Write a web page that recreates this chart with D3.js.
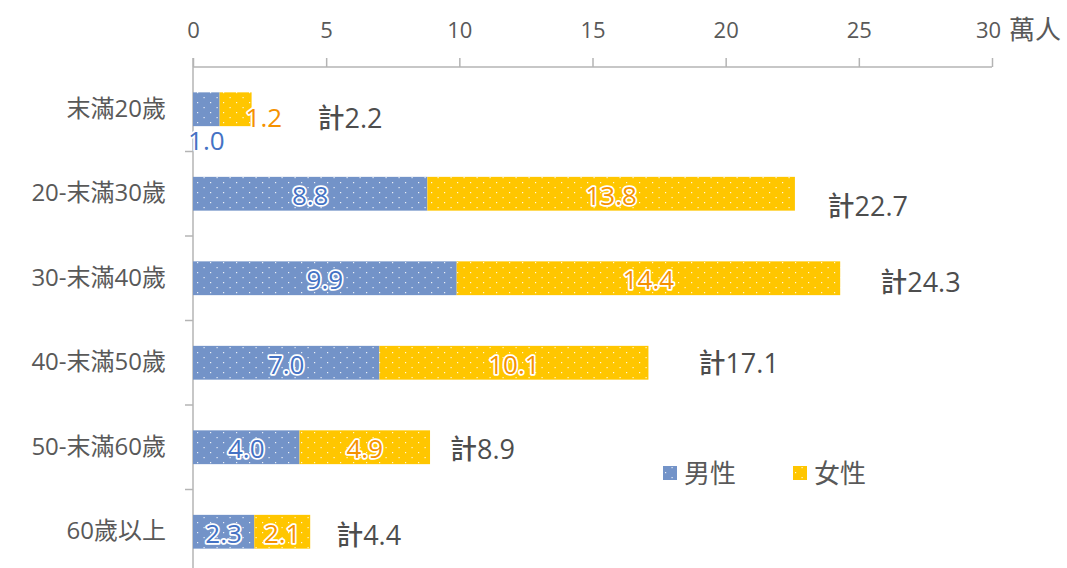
<!DOCTYPE html>
<html><head><meta charset="utf-8">
<script src="https://cdn.jsdelivr.net/npm/d3@7"></script>
<style>
body{margin:0;background:#fff;}
text{font-family:"Open Sans","Noto Sans CJK TC",sans-serif;}
</style></head>
<body><svg id="c" width="1067" height="568"></svg>
<script>
const categories = ["末滿20歲","20-末滿30歲","30-末滿40歲","40-末滿50歲","50-末滿60歲","60歲以上"];
const male = [1.0, 8.8, 9.9, 7.0, 4.0, 2.3];
const female = [1.2, 13.8, 14.4, 10.1, 4.9, 2.1];
const total = [2.2, 22.7, 24.3, 17.1, 8.9, 4.4];
const xTicks = [0,5,10,15,20,25,30];
const seriesNames = ["男性","女性"];
const unitLabel = "萬人";

// layout constants (not data)
const totalDx = [66, 30, 40, 50, 20, 26];
const totalDy = [8, 12, 3, 0, 1, 3];

const svg = d3.select("#c");
const defs = svg.append("defs");
function pat(id, color){
  const p = defs.append("pattern").attr("id", id).attr("patternUnits","userSpaceOnUse")
    .attr("width", 13).attr("height", 10);
  p.append("rect").attr("width",13).attr("height",10).attr("fill",color);
  p.append("rect").attr("x",2).attr("y",2).attr("width",1.2).attr("height",1.2).attr("fill","#fff").attr("opacity",0.85);
  p.append("rect").attr("x",8.5).attr("y",7).attr("width",1.2).attr("height",1.2).attr("fill","#fff").attr("opacity",0.85);
}
pat("pm", "#7393C8");
pat("pf", "#FFC600");

const x = d3.scaleLinear().domain([0,30]).range([193, 992]);
const y = d3.scaleBand().domain(categories).range([67, 574]).paddingInner(0.6).paddingOuter(0.3);

const axisColor = "#B4B4B4";
// top axis
const xa = svg.append("g").attr("transform","translate(0,67)")
  .call(d3.axisTop(x).tickValues(xTicks).tickSize(9).tickPadding(20).tickFormat(d3.format("d")));
xa.select(".domain").attr("stroke", axisColor).attr("stroke-width",1.5).attr("d", `M${x(0)},0H${x(30)}`);
xa.selectAll(".tick line").attr("stroke", axisColor).attr("stroke-width",1.5);
xa.selectAll(".tick text").attr("fill","#595959").attr("font-size",22)
  .attr("dx", (d)=> d===30 ? -4 : 0);
svg.append("text").attr("x", x(30)+17).attr("y", 29).attr("dominant-baseline","central")
  .attr("fill","#595959").attr("font-size",26).text(unitLabel);

// left axis
const ya = svg.append("g").attr("transform",`translate(${x(0)},0)`)
  .call(d3.axisLeft(y).tickSize(0).tickPadding(27));
ya.select(".domain").attr("stroke", axisColor).attr("stroke-width",1.5).attr("d","M0,58V574");
ya.selectAll(".tick text").attr("fill","#595959").attr("font-size",24);
// category boundary ticks
const step = y.step();
svg.append("g").selectAll("line").data(categories.slice(0, -1)).join("line")
  .attr("x1", x(0)-8).attr("x2", x(0))
  .attr("y1", (d)=> y(d) + y.bandwidth() + step*0.3)
  .attr("y2", (d)=> y(d) + y.bandwidth() + step*0.3)
  .attr("stroke", axisColor).attr("stroke-width",1.5);

// bars
const g = svg.append("g");
categories.forEach((c,i)=>{
  const yy = y(c), h = y.bandwidth();
  g.append("rect").attr("x", x(0)).attr("y", yy).attr("width", x(male[i])-x(0)).attr("height", h).attr("fill","url(#pm)");
  g.append("rect").attr("x", x(male[i])).attr("y", yy).attr("width", x(male[i]+female[i])-x(male[i])).attr("height", h).attr("fill","url(#pf)");
});

function label(xp, yp, txt, color, anchor){
  svg.append("text").attr("x", xp).attr("y", yp).attr("text-anchor", anchor||"middle")
    .attr("dominant-baseline","central").attr("font-size",26)
    .attr("fill", color).attr("stroke","#fff").attr("stroke-width",3.5).attr("stroke-linejoin","round")
    .attr("paint-order","stroke").text(txt);
}
const fmt = d3.format(".1f");
categories.forEach((c,i)=>{
  const cy = y(c) + y.bandwidth()/2;
  if (i === 0) {
    label((x(0)+x(male[i]))/2, cy + 31, fmt(male[i]), "#4472C4");
    label(x(male[i]+female[i]) - 6, cy + 8, fmt(female[i]), "#F59100", "start");
  } else {
    label((x(0)+x(male[i]))/2, cy + 1, fmt(male[i]), "#4472C4");
    label((x(male[i])+x(male[i]+female[i]))/2, cy + 1, fmt(female[i]), "#F59100");
  }
  svg.append("text").attr("x", x(total[i]) + totalDx[i]).attr("y", cy + totalDy[i])
    .attr("dominant-baseline","central").attr("font-size",27).attr("font-weight",500)
    .attr("fill","#4D4D4D").text("計" + fmt(total[i]));
});

// legend
const lg = svg.append("g");
const lx = [663, 793];
seriesNames.forEach((s,i)=>{
  lg.append("rect").attr("x", lx[i]).attr("y", 466).attr("width",14).attr("height",14).attr("fill", i===0?"url(#pm)":"url(#pf)");
  lg.append("text").attr("x", lx[i]+21).attr("y", 473).attr("dominant-baseline","central")
    .attr("font-size",26).attr("fill","#595959").text(s);
});
</script></body></html>
